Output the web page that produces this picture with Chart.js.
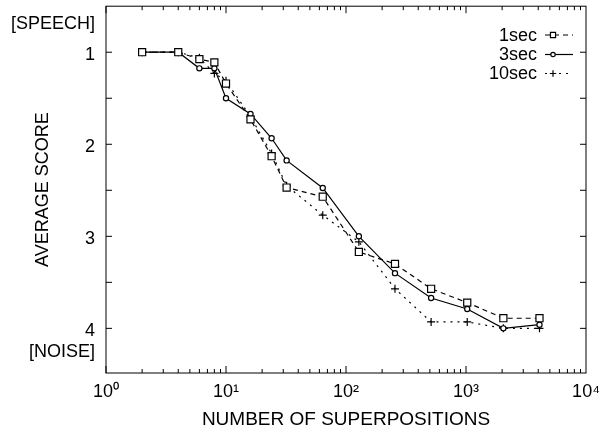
<!DOCTYPE html>
<html><head><meta charset="utf-8">
<script src="https://cdn.jsdelivr.net/npm/chart.js@4"></script>
<style>html,body{margin:0;padding:0;background:#fff;}</style>
</head><body>
<canvas id="c" width="606" height="432" style="display:block;width:606px;height:432px"></canvas>
<script>
const superpositions = [2, 4, 6, 8, 10, 16, 24, 32, 64, 128, 256, 512, 1024, 2048, 4096];
const score1sec  = [1.0, 1.0, 1.075, 1.11, 1.34, 1.73, 2.13, 2.47, 2.57, 3.17, 3.30, 3.57, 3.72, 3.89, 3.89];
const score3sec  = [1.0, 1.0, 1.175, 1.175, 1.50, 1.67, 1.935, 2.175, 2.475, 3.0, 3.40, 3.67, 3.79, 4.0, 3.96];
const score10sec = [1.0, 1.0, 1.06, 1.23, 1.31, 1.70, 2.10, 2.45, 2.77, 3.06, 3.57, 3.93, 3.93, 4.0, 4.0];
const seriesNames = ['1sec', '3sec', '10sec'];
const xTickValues = [1, 10, 100, 1000, 10000];
const xTickLabels = ['10\u2070', '10\u00B9', '10\u00B2', '10\u00B3', '10\u2074'];
const yTickValues = [0.66, 1, 1.5, 2, 2.5, 3, 3.5, 4, 4.22];
const yTickLabels = ['[SPEECH]', '1', '', '2', '', '3', '', '4', '[NOISE]'];
const yTickMarks = [1, 1.5, 2, 2.5, 3, 3.5, 4];

const FONT = 'Liberation Sans, Arial, Helvetica, sans-serif';
const toPts = arr => superpositions.map((x, i) => ({x: x, y: arr[i]}));

const styles = [
  {dash: [5, 4], pointStyle: 'rect', radius: 5, order: 1, legendRadius: 3.6},
  {dash: [], pointStyle: 'circle', radius: 2.6, order: 2, legendRadius: 2.2},
  {dash: [2, 5], pointStyle: 'cross', radius: 4, order: 3, legendRadius: 3.2}
];
const seriesData = [score1sec, score3sec, score10sec];

const datasets = seriesNames.map((name, i) => ({
  label: name,
  data: toPts(seriesData[i]),
  borderColor: '#000',
  borderWidth: 1.2,
  borderDash: styles[i].dash,
  pointStyle: styles[i].pointStyle,
  pointRadius: styles[i].radius,
  pointBackgroundColor: '#fff',
  pointBorderColor: '#000',
  pointBorderWidth: 1.2,
  tension: 0,
  fill: false,
  order: styles[i].order
}));

const framePlugin = {
  id: 'frame',
  afterDatasetsDraw(chart) {
    const ctx = chart.ctx;
    const {left, right, top, bottom} = chart.chartArea;
    const xs = chart.scales.x, ys = chart.scales.y;
    ctx.save();
    ctx.strokeStyle = '#000';
    ctx.lineWidth = 1;
    ctx.setLineDash([]);
    ctx.strokeRect(left, top, right - left, bottom - top);
    ctx.beginPath();
    for (let d = 0; d < 4; d++) {
      for (let m = 1; m <= 9; m++) {
        const v = m * Math.pow(10, d);
        const px = xs.getPixelForValue(v);
        const len = m === 1 ? 7 : 4;
        ctx.moveTo(px, bottom); ctx.lineTo(px, bottom - len);
        ctx.moveTo(px, top); ctx.lineTo(px, top + len);
      }
    }
    yTickMarks.forEach(v => {
      const py = ys.getPixelForValue(v);
      ctx.moveTo(left, py); ctx.lineTo(left + 6, py);
      ctx.moveTo(right, py); ctx.lineTo(right - 6, py);
    });
    ctx.stroke();

    // legend
    const rowsY = [35, 54.5, 73.5];
    ctx.font = '18px ' + FONT;
    ctx.fillStyle = '#000';
    ctx.textAlign = 'right';
    ctx.textBaseline = 'middle';
    chart.data.datasets.forEach((ds, i) => {
      const y = rowsY[i];
      ctx.fillText(ds.label, 537, y + 1);
      ctx.beginPath();
      ctx.lineWidth = 1.2;
      ctx.setLineDash(styles[i].dash);
      ctx.moveTo(545, y); ctx.lineTo(573, y);
      ctx.stroke();
      ctx.setLineDash([]);
      ctx.fillStyle = '#fff';
      ctx.strokeStyle = '#000';
      Chart.helpers.drawPoint(ctx, {pointStyle: styles[i].pointStyle, radius: styles[i].legendRadius, borderWidth: 1.2, rotation: 0}, 553, y);
      ctx.fillStyle = '#000';
    });
    ctx.restore();
  }
};

new Chart(document.getElementById('c'), {
  type: 'line',
  data: {datasets: datasets},
  options: {
    responsive: false,
    animation: false,
    devicePixelRatio: 1,
    layout: {padding: {top: 3, right: 20, left: 0, bottom: 0}},
    plugins: {legend: {display: false}, tooltip: {enabled: false}},
    scales: {
      x: {
        type: 'logarithmic',
        min: 1, max: 10000,
        afterBuildTicks: s => { s.ticks = xTickValues.map(v => ({value: v, major: true})); },
        ticks: {
          autoSkip: false, maxRotation: 0, minRotation: 0,
          callback: v => xTickLabels[xTickValues.indexOf(v)],
          font: {family: FONT, size: 18}, color: '#000', padding: 8
        },
        grid: {display: false, drawTicks: false},
        border: {display: false},
        title: {display: true, text: 'NUMBER OF SUPERPOSITIONS', color: '#000',
                font: {family: FONT, size: 19}, padding: {top: 0, bottom: 1}},
        afterFit: s => { s.height = 59; s.paddingLeft = 0; s.paddingRight = 0; }
      },
      y: {
        type: 'linear',
        reverse: true,
        min: 0.5, max: 4.485,
        afterBuildTicks: s => { s.ticks = yTickValues.map(v => ({value: v})); },
        ticks: {
          autoSkip: false,
          callback: v => yTickLabels[yTickValues.indexOf(v)],
          font: {family: FONT, size: 18}, color: '#000', padding: 11, labelOffset: 3
        },
        grid: {display: false, drawTicks: false},
        border: {display: false},
        title: {display: true, text: 'AVERAGE SCORE', color: '#000',
                font: {family: FONT, size: 18}, padding: {top: 32, bottom: 0}},
        afterFit: s => { s.width = 106; s.paddingTop = 0; s.paddingBottom = 0; }
      }
    }
  },
  plugins: [framePlugin]
});
</script>
</body></html>
